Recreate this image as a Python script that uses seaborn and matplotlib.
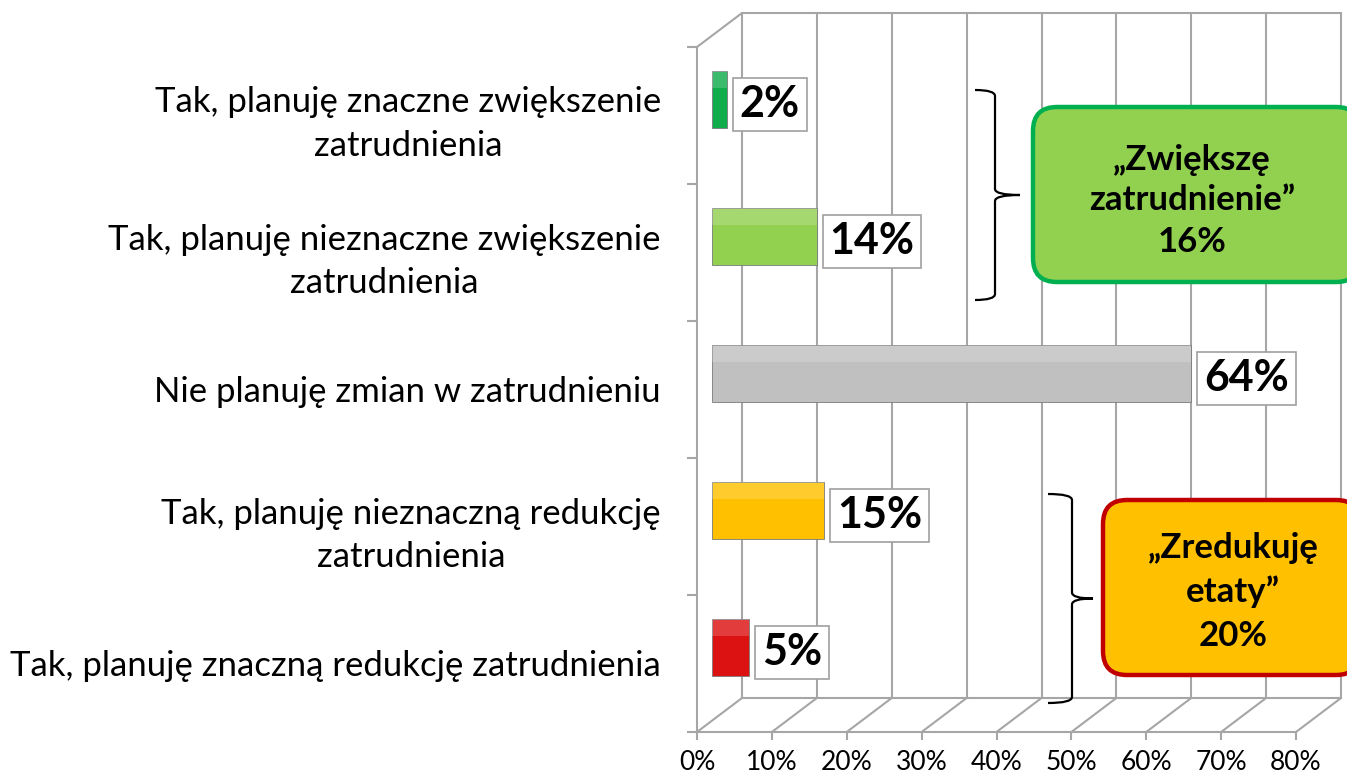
import numpy as np
import pandas as pd
import matplotlib
matplotlib.use("Agg")
import matplotlib.pyplot as plt
import matplotlib.transforms as mtransforms
from matplotlib.path import Path
from matplotlib.patches import PathPatch, FancyBboxPatch, Rectangle
import seaborn as sns

categories = ["Tak, planuję znaczne zwiększenie\nzatrudnienia",
              "Tak, planuję nieznaczne zwiększenie\nzatrudnienia",
              "Nie planuję zmian w zatrudnieniu",
              "Tak, planuję nieznaczną redukcję\nzatrudnienia",
              "Tak, planuję znaczną redukcję zatrudnienia"]
values = [2, 14, 64, 15, 5]
bar_colors = ["#10ac4c", "#92d050", "#c0c0c0", "#ffc000", "#dc1212"]
xticks = [0, 10, 20, 30, 40, 50, 60, 70, 80]
group_up = ["„Zwiększę", "zatrudnienie”", "16%"]
group_down = ["„Zredukuję", "etaty”", "20%"]

sns.set_theme(style="white")
plt.rcParams['font.family'] = ['Lato', 'DejaVu Sans']

W, H = 1347, 779
fig = plt.figure(figsize=(W / 100, H / 100), dpi=100)
# front plane of the 3D box
ax = fig.add_axes([697 / W, (H - 732) / H, 599 / W, 685 / H])
ov = fig.add_axes([0, 0, 1, 1])
ov.set_xlim(0, W)
ov.set_ylim(0, H)
ov.axis("off")
ov.patch.set_alpha(0)

df = pd.DataFrame({"cat": categories, "val": values})
sns.barplot(data=df, x="val", y="cat", hue="cat", palette=bar_colors, saturation=1,
            order=categories, orient="h", width=0.42, legend=False, ax=ax,
            edgecolor="#7a7a7a", linewidth=0.6, zorder=3)
ax.set_xlim(0, 80)
ax.set_ylim(4.5, -0.5)

# push bars back to the middle depth of the box, add a soft sheen on top
bar_off = mtransforms.ScaledTranslation(15 / 100, 16 / 100, fig.dpi_scale_trans)
for p in list(ax.patches):
    p.set_transform(ax.transData + bar_off)
    x0, y0, w, h = p.get_x(), p.get_y(), p.get_width(), p.get_height()
    ax.add_patch(Rectangle((x0, y0), w, h * 0.3, fc="white", ec="none",
                           alpha=0.18, zorder=4, transform=ax.transData + bar_off))

grid_c = "#a6a6a6"
for s in ["top", "right"]:
    ax.spines[s].set_visible(False)
for s in ["left", "bottom"]:
    ax.spines[s].set_color(grid_c)
    ax.spines[s].set_linewidth(1.5)

ax.set_xticks(xticks)
ax.set_xticklabels([f"{t}%" for t in xticks], fontsize=19, color="black")
ax.tick_params(axis="x", length=6, width=1.5, color=grid_c, pad=7, bottom=True)
ax.set_yticks(range(len(categories)))
ax.set_yticklabels(categories, fontsize=25, color="black", linespacing=1.45)
for t in ax.get_yticklabels():
    t.set_multialignment("center")
ax.set_yticks(np.arange(-0.5, 5, 1), minor=True)
ax.tick_params(axis="y", which="major", length=0, pad=26)
ax.tick_params(axis="y", which="minor", length=7, width=1.5, color=grid_c, left=True)
ax.set_xlabel("")
ax.set_ylabel("")
ax.patch.set_alpha(0)
ax.set_zorder(2)

# back wall, floor and side edges (drawn in pixels from the axes scale)
fig.canvas.draw()
dx, dy = 45, 34
def px(x, y):
    return ax.transData.transform((x, y))
lines = []
for t in xticks:
    a = px(t, -0.5)
    b = px(t, 4.5)
    lines.append(([a[0] + dx, b[0] + dx], [a[1] + dy, b[1] + dy]))
    lines.append(([b[0], b[0] + dx], [b[1], b[1] + dy]))
a0, a1 = px(0, -0.5), px(80, -0.5)
lines.append(([a0[0] + dx, a1[0] + dx], [a0[1] + dy, a1[1] + dy]))
b0, b1 = px(0, 4.5), px(80, 4.5)
lines.append(([b0[0] + dx, b1[0] + dx], [b0[1] + dy, b1[1] + dy]))
lines.append(([a0[0], a0[0] + dx], [a0[1], a0[1] + dy]))
for xs, ys in lines:
    ov.plot(xs, ys, color=grid_c, lw=1.5, zorder=0)

# value labels
for i, v in enumerate(values):
    ax.annotate(f"{v}%", xy=(v, i), xytext=(20, 8), textcoords="offset points",
                ha="left", va="center", fontsize=31, fontweight="bold",
                color="black", zorder=6,
                bbox=dict(boxstyle="square,pad=0.16", fc="white", ec="#a0a0a0", lw=1.2))

# braces and group callouts on a top overlay
top = fig.add_axes([0, 0, 1, 1], zorder=6)
top.set_xlim(0, W)
top.set_ylim(0, H)
top.axis("off")
top.patch.set_alpha(0)

def brace(x0, x1, x2, yt, yb):
    yt, yb = H - yt, H - yb
    ym = (yt + yb) / 2
    r = 6
    verts = [(x0, yt), (x1, yt), (x1, yt - r), (x1, ym + r), (x1, ym), (x2, ym),
             (x1, ym), (x1, ym - r), (x1, yb + r), (x1, yb), (x0, yb)]
    codes = [Path.MOVETO, Path.CURVE3, Path.CURVE3, Path.LINETO, Path.CURVE3, Path.CURVE3,
             Path.CURVE3, Path.CURVE3, Path.LINETO, Path.CURVE3, Path.CURVE3]
    top.add_patch(PathPatch(Path(verts, codes), fc="none", ec="black", lw=1.6))

brace(975, 995, 1020, 90, 300)
brace(1048, 1072, 1093, 494, 703)

def callout(x0, x1, yt, yb, fc, ec, lines_, cx, ys):
    box = FancyBboxPatch((x0, H - yb), x1 - x0, yb - yt,
                         boxstyle="round,pad=0,rounding_size=24",
                         fc=fc, ec=ec, lw=3.2)
    top.add_patch(box)
    for txt, y in zip(lines_, ys):
        top.text(cx, H - y, txt, ha="center", va="center", fontsize=25,
                 fontweight="bold", color="black")

callout(1033, 1360, 107, 282, "#92d050", "#00b050", group_up, 1192, [160, 200, 242])
callout(1103, 1360, 500, 675, "#ffc000", "#c00000", group_down, 1233, [548, 592, 636])

fig.savefig("out.png", dpi=100)
